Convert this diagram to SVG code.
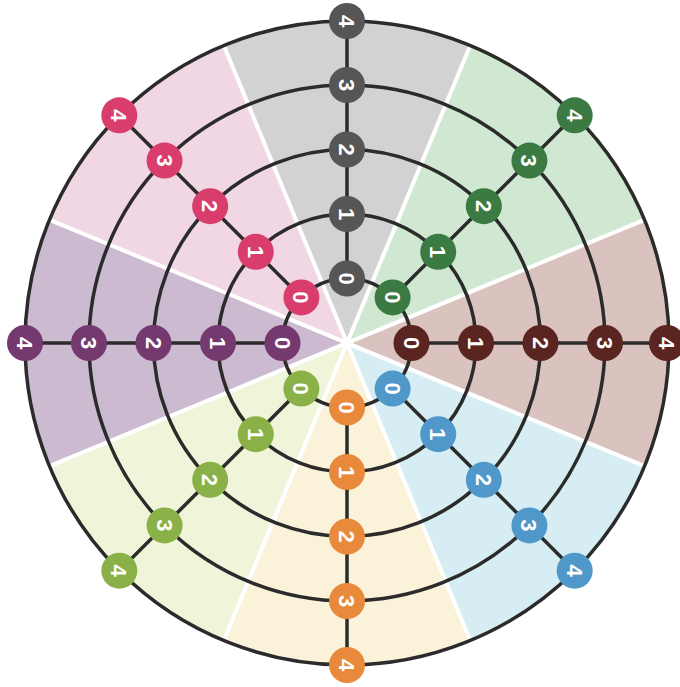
<svg xmlns="http://www.w3.org/2000/svg" width="680" height="687" viewBox="0 0 680 687">
<style>
.ring{fill:none;stroke:#2b2b2b;stroke-width:3.5}
.spoke{stroke:#2b2b2b;stroke-width:3.5}
.sep{stroke:#ffffff;stroke-width:4}
.n text{font-family:"Liberation Sans",Arial,sans-serif;font-weight:bold;font-size:22px;fill:#fff;text-anchor:middle}
.gray circle{fill:#565656}.green circle{fill:#3b7a42}.brown circle{fill:#5a2520}.blue circle{fill:#4f98c9}
.orange circle{fill:#e8893b}.lime circle{fill:#8ab148}.purple circle{fill:#743a70}.pink circle{fill:#d83d6c}
</style>
<rect width="680" height="687" fill="#ffffff"/>
<g id="sectors">
<path d="M347,343 L644.49,219.78 A322,322 0 0 1 644.49,466.22 Z" fill="#dac3be"/>
<path d="M347,343 L644.49,466.22 A322,322 0 0 1 470.22,640.49 Z" fill="#d6eef3"/>
<path d="M347,343 L470.22,640.49 A322,322 0 0 1 223.78,640.49 Z" fill="#fbf2da"/>
<path d="M347,343 L223.78,640.49 A322,322 0 0 1 49.51,466.22 Z" fill="#f0f5da"/>
<path d="M347,343 L49.51,466.22 A322,322 0 0 1 49.51,219.78 Z" fill="#cbbad0"/>
<path d="M347,343 L49.51,219.78 A322,322 0 0 1 223.78,45.51 Z" fill="#f0d7e3"/>
<path d="M347,343 L223.78,45.51 A322,322 0 0 1 470.22,45.51 Z" fill="#d2d2d2"/>
<path d="M347,343 L470.22,45.51 A322,322 0 0 1 644.49,219.78 Z" fill="#d0e8d2"/>
<line class="sep" x1="644.49" y1="219.78" x2="49.51" y2="466.22"/>
<line class="sep" x1="644.49" y1="466.22" x2="49.51" y2="219.78"/>
<line class="sep" x1="470.22" y1="640.49" x2="223.78" y2="45.51"/>
<line class="sep" x1="223.78" y1="640.49" x2="470.22" y2="45.51"/>
</g>
<g id="connectors">
<circle class="ring" cx="347" cy="343" r="64.5"/>
<circle class="ring" cx="347" cy="343" r="129"/>
<circle class="ring" cx="347" cy="343" r="193.5"/>
<circle class="ring" cx="347" cy="343" r="258"/>
<circle class="ring" cx="347" cy="343" r="322"/>
<line class="spoke" x1="411.5" y1="343" x2="669" y2="343"/>
<line class="spoke" x1="282.5" y1="343" x2="25" y2="343"/>
<line class="spoke" x1="347" y1="278.5" x2="347" y2="21"/>
<line class="spoke" x1="347" y1="407.5" x2="347" y2="665"/>
<line class="spoke" x1="392.61" y1="297.39" x2="574.69" y2="115.31"/>
<line class="spoke" x1="392.61" y1="388.61" x2="574.69" y2="570.69"/>
<line class="spoke" x1="301.39" y1="388.61" x2="119.31" y2="570.69"/>
<line class="spoke" x1="301.39" y1="297.39" x2="119.31" y2="115.31"/>
</g>
<g id="gray" class="gray">
<g id="gray-0" class="n"><circle cx="347" cy="278.5" r="18"/><text transform="translate(347,278.5) rotate(90)" y="8">0</text></g>
<g id="gray-1" class="n"><circle cx="347" cy="214" r="18"/><text transform="translate(347,214) rotate(90)" y="8">1</text></g>
<g id="gray-2" class="n"><circle cx="347" cy="149.5" r="18"/><text transform="translate(347,149.5) rotate(90)" y="8">2</text></g>
<g id="gray-3" class="n"><circle cx="347" cy="85" r="18"/><text transform="translate(347,85) rotate(90)" y="8">3</text></g>
<g id="gray-4" class="n"><circle cx="347" cy="21" r="18"/><text transform="translate(347,21) rotate(90)" y="8">4</text></g>
</g>
<g id="green" class="green">
<g id="green-0" class="n"><circle cx="392.61" cy="297.39" r="18"/><text transform="translate(392.61,297.39) rotate(90)" y="8">0</text></g>
<g id="green-1" class="n"><circle cx="438.22" cy="251.78" r="18"/><text transform="translate(438.22,251.78) rotate(90)" y="8">1</text></g>
<g id="green-2" class="n"><circle cx="483.83" cy="206.17" r="18"/><text transform="translate(483.83,206.17) rotate(90)" y="8">2</text></g>
<g id="green-3" class="n"><circle cx="529.43" cy="160.57" r="18"/><text transform="translate(529.43,160.57) rotate(90)" y="8">3</text></g>
<g id="green-4" class="n"><circle cx="574.69" cy="115.31" r="18"/><text transform="translate(574.69,115.31) rotate(90)" y="8">4</text></g>
</g>
<g id="brown" class="brown">
<g id="brown-0" class="n"><circle cx="411.5" cy="343" r="18"/><text transform="translate(411.5,343) rotate(90)" y="8">0</text></g>
<g id="brown-1" class="n"><circle cx="476" cy="343" r="18"/><text transform="translate(476,343) rotate(90)" y="8">1</text></g>
<g id="brown-2" class="n"><circle cx="540.5" cy="343" r="18"/><text transform="translate(540.5,343) rotate(90)" y="8">2</text></g>
<g id="brown-3" class="n"><circle cx="605" cy="343" r="18"/><text transform="translate(605,343) rotate(90)" y="8">3</text></g>
<g id="brown-4" class="n"><circle cx="667" cy="343" r="18"/><text transform="translate(667,343) rotate(90)" y="8">4</text></g>
</g>
<g id="blue" class="blue">
<g id="blue-0" class="n"><circle cx="392.61" cy="388.61" r="18"/><text transform="translate(392.61,388.61) rotate(90)" y="8">0</text></g>
<g id="blue-1" class="n"><circle cx="438.22" cy="434.22" r="18"/><text transform="translate(438.22,434.22) rotate(90)" y="8">1</text></g>
<g id="blue-2" class="n"><circle cx="483.83" cy="479.83" r="18"/><text transform="translate(483.83,479.83) rotate(90)" y="8">2</text></g>
<g id="blue-3" class="n"><circle cx="529.43" cy="525.43" r="18"/><text transform="translate(529.43,525.43) rotate(90)" y="8">3</text></g>
<g id="blue-4" class="n"><circle cx="574.69" cy="570.69" r="18"/><text transform="translate(574.69,570.69) rotate(90)" y="8">4</text></g>
</g>
<g id="orange" class="orange">
<g id="orange-0" class="n"><circle cx="347" cy="407.5" r="18"/><text transform="translate(347,407.5) rotate(90)" y="8">0</text></g>
<g id="orange-1" class="n"><circle cx="347" cy="472" r="18"/><text transform="translate(347,472) rotate(90)" y="8">1</text></g>
<g id="orange-2" class="n"><circle cx="347" cy="536.5" r="18"/><text transform="translate(347,536.5) rotate(90)" y="8">2</text></g>
<g id="orange-3" class="n"><circle cx="347" cy="601" r="18"/><text transform="translate(347,601) rotate(90)" y="8">3</text></g>
<g id="orange-4" class="n"><circle cx="347" cy="665" r="18"/><text transform="translate(347,665) rotate(90)" y="8">4</text></g>
</g>
<g id="lime" class="lime">
<g id="lime-0" class="n"><circle cx="301.39" cy="388.61" r="18"/><text transform="translate(301.39,388.61) rotate(90)" y="8">0</text></g>
<g id="lime-1" class="n"><circle cx="255.78" cy="434.22" r="18"/><text transform="translate(255.78,434.22) rotate(90)" y="8">1</text></g>
<g id="lime-2" class="n"><circle cx="210.17" cy="479.83" r="18"/><text transform="translate(210.17,479.83) rotate(90)" y="8">2</text></g>
<g id="lime-3" class="n"><circle cx="164.57" cy="525.43" r="18"/><text transform="translate(164.57,525.43) rotate(90)" y="8">3</text></g>
<g id="lime-4" class="n"><circle cx="119.31" cy="570.69" r="18"/><text transform="translate(119.31,570.69) rotate(90)" y="8">4</text></g>
</g>
<g id="purple" class="purple">
<g id="purple-0" class="n"><circle cx="282.5" cy="343" r="18"/><text transform="translate(282.5,343) rotate(90)" y="8">0</text></g>
<g id="purple-1" class="n"><circle cx="218" cy="343" r="18"/><text transform="translate(218,343) rotate(90)" y="8">1</text></g>
<g id="purple-2" class="n"><circle cx="153.5" cy="343" r="18"/><text transform="translate(153.5,343) rotate(90)" y="8">2</text></g>
<g id="purple-3" class="n"><circle cx="89" cy="343" r="18"/><text transform="translate(89,343) rotate(90)" y="8">3</text></g>
<g id="purple-4" class="n"><circle cx="25" cy="343" r="18"/><text transform="translate(25,343) rotate(90)" y="8">4</text></g>
</g>
<g id="pink" class="pink">
<g id="pink-0" class="n"><circle cx="301.39" cy="297.39" r="18"/><text transform="translate(301.39,297.39) rotate(90)" y="8">0</text></g>
<g id="pink-1" class="n"><circle cx="255.78" cy="251.78" r="18"/><text transform="translate(255.78,251.78) rotate(90)" y="8">1</text></g>
<g id="pink-2" class="n"><circle cx="210.17" cy="206.17" r="18"/><text transform="translate(210.17,206.17) rotate(90)" y="8">2</text></g>
<g id="pink-3" class="n"><circle cx="164.57" cy="160.57" r="18"/><text transform="translate(164.57,160.57) rotate(90)" y="8">3</text></g>
<g id="pink-4" class="n"><circle cx="119.31" cy="115.31" r="18"/><text transform="translate(119.31,115.31) rotate(90)" y="8">4</text></g>
</g>
</svg>
